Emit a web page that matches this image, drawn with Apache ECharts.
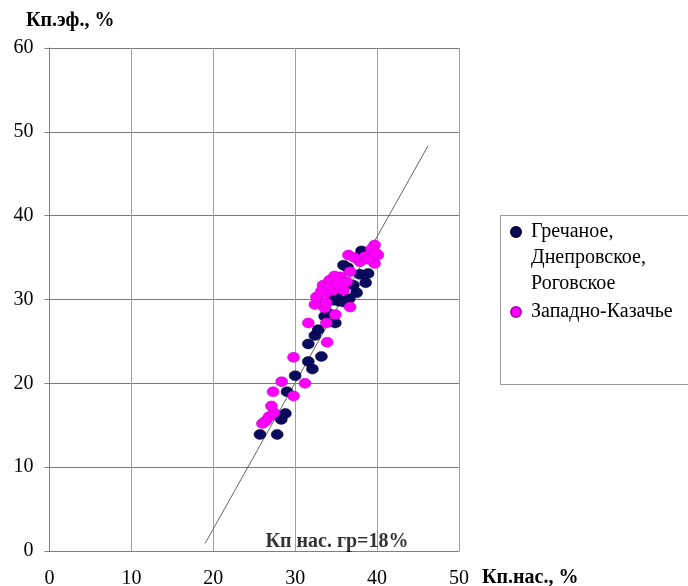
<!DOCTYPE html>
<html><head><meta charset="utf-8">
<script src="https://cdn.jsdelivr.net/npm/echarts@6/dist/echarts.min.js"></script>
<style>html,body{margin:0;padding:0;background:#fff}#c{width:688px;height:586px}</style>
</head><body><div id="c"></div>
<script>
const seriesNames = ['Гречаное,\nДнепровское,\nРоговское', 'Западно-Казачье'];
const yTitle = 'Кп.эф., %';
const xTitle = 'Кп.нас., %';
const navyPoints = [
  [25.7,13.9],[27.8,13.9],[28.3,15.7],[28.8,16.4],[29.0,19.0],[30.0,20.9],[32.1,21.7],
  [31.6,22.6],[33.2,23.2],[31.6,24.7],[32.4,25.7],[32.8,26.4],[33.6,28.0],[34.0,28.4],
  [34.9,27.2],[34.6,29.9],[35.3,29.8],[35.1,30.3],[35.9,29.7],[36.6,30.1],[37.5,30.8],
  [37.1,31.7],[38.6,32.0],[37.9,33.0],[38.9,33.1],[35.9,34.1],[36.4,33.8],[38.1,35.8]
];
const magentaPoints = [
  [26.0,15.2],[26.4,15.5],[26.8,16.0],[27.4,16.5],[27.1,17.3],[27.3,19.0],[28.35,20.2],
  [29.8,18.5],[31.2,20.0],[29.8,23.1],[33.9,24.9],[31.6,27.2],[33.8,27.2],[34.9,28.2],
  [36.7,29.1],[32.4,29.4],[33.6,29.0],[33.0,29.7],[33.8,29.6],[32.6,30.3],[33.8,30.8],
  [34.65,31.1],[35.9,31.1],[33.4,31.7],[34.2,32.3],[35.5,32.7],[36.3,32.1],[36.7,33.3],
  [34.8,32.8],[35.2,31.8],[34.0,31.3],[33.2,31.0],[36.5,35.3],[37.9,34.5],[38.5,35.1],
  [39.7,34.3],[40.1,35.3],[39.7,36.5],[39.3,36.0],[38.9,34.8],[39.8,35.6],[37.2,35.0]
];
const trendLine = [[19.0,0.9],[46.2,48.3]];
const annotText = 'Кп нас. гр=18%';
const annotPoint = [[35.1,1.1]];
const xRange = {min:0, max:50, interval:10};
const yRange = {min:0, max:60, interval:10};

const FONT = '"Liberation Serif", "Times New Roman", serif';
const chart = echarts.init(document.getElementById('c'), null, {renderer:'canvas'});
chart.setOption({
  animation:false,
  backgroundColor:'#fff',
  title:{text:yTitle, left:26, top:11, padding:0, textStyle:{fontFamily:FONT, fontWeight:'bold', fontSize:20, color:'#000'}},
  grid:{left:49.5, top:48, width:409.5, height:503, containLabel:false, outerBoundsMode:'none'},
  graphic:[{type:'rect', left:498, top:213, shape:{width:220, height:169}, style:{fill:'none', stroke:'#999', lineWidth:1}, silent:true}],
  legend:{
    orient:'vertical', left:510, top:167, padding:0, itemGap:2,
    itemWidth:10, itemHeight:10, icon:'circle',
    data:[seriesNames[0], seriesNames[1]],
    formatter:function(n){ return n===seriesNames[0] ? '\n\n'+n : n; },
    textStyle:{fontFamily:FONT, fontSize:20, color:'#000', lineHeight:26, padding:[0,0,0,5]}
  },
  xAxis:{
    type:'value', min:xRange.min, max:xRange.max, interval:xRange.interval,
    name:xTitle, nameLocation:'end', nameGap:23,
    nameTextStyle:{fontFamily:FONT, fontWeight:'bold', fontSize:20, color:'#000', verticalAlign:'top', padding:[17,0,0,0]},
    axisLine:{show:true, lineStyle:{color:'#808080', width:1}},
    axisTick:{show:false},
    axisLabel:{fontFamily:FONT, fontSize:20, color:'#000', margin:18},
    splitLine:{show:true, lineStyle:{color:'#a0a0a0', width:1}}
  },
  yAxis:{
    type:'value', min:yRange.min, max:yRange.max, interval:yRange.interval,
    axisLine:{show:true, lineStyle:{color:'#808080', width:1}},
    axisTick:{show:true, inside:false, length:5, lineStyle:{color:'#808080'}},
    axisLabel:{fontFamily:FONT, fontSize:20, color:'#000', margin:16},
    splitLine:{show:true, lineStyle:{color:'#7a7a7a', width:1}}
  },
  series:[
    {type:'line', data:trendLine, symbol:'none', silent:true, lineStyle:{color:'#666', width:1}, z:1},
    {type:'scatter', name:seriesNames[0], data:navyPoints, symbol:'circle', symbolSize:[12,10],
     itemStyle:{color:'#0b0b5e', borderColor:'#000033', borderWidth:0.5, opacity:1}, z:3},
    {type:'scatter', name:seriesNames[1], data:magentaPoints, symbol:'circle', symbolSize:[12,10],
     itemStyle:{color:'#ff00ff', borderColor:'#b000b0', borderWidth:0.5, opacity:1}, z:4},
    {type:'scatter', name:'annot', data:annotPoint, symbolSize:0, silent:true,
     label:{show:true, position:'inside', formatter:annotText, fontFamily:FONT, fontWeight:'bold', fontSize:20, color:'#000'}, z:5}
  ]
});
</script></body></html>
